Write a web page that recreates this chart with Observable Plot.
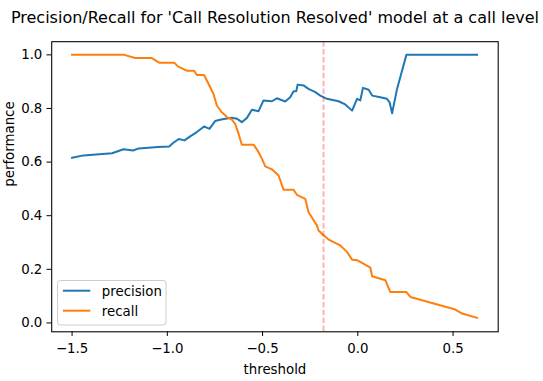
<!DOCTYPE html>
<html>
<head>
<meta charset="utf-8">
<script src="https://cdn.jsdelivr.net/npm/d3@7"></script>
<script src="https://cdn.jsdelivr.net/npm/@observablehq/plot@0.6"></script>
<style>
  html, body { margin: 0; padding: 0; background: #fff; }
  #chart { width: 543px; height: 381px; }
</style>
</head>
<body>
<div id="chart"></div>
<script>
const titleText = "Precision/Recall for 'Call Resolution Resolved' model at a call level";
const xLabel = "threshold";
const yLabel = "performance";
const seriesNames = ["precision", "recall"];
const seriesColors = ["#1f77b4", "#ff7f0e"];
const xTicks = [-1.5, -1.0, -0.5, 0.0, 0.5];
const yTicks = [0.0, 0.2, 0.4, 0.6, 0.8, 1.0];
const chosenThreshold = [-0.18];

const precisionX = [-1.50, -1.44, -1.29, -1.23, -1.18, -1.15, -1.05, -0.99, -0.97, -0.94, -0.91, -0.88, -0.845, -0.807, -0.779, -0.749, -0.723, -0.696, -0.661, -0.635, -0.609, -0.582, -0.556, -0.521, -0.495, -0.451, -0.425, -0.381, -0.355, -0.337, -0.323, -0.316, -0.285, -0.259, -0.223, -0.197, -0.162, -0.101, -0.066, -0.030, -0.004, 0.013, 0.027, 0.057, 0.075, 0.118, 0.153, 0.167, 0.180, 0.206, 0.255, 0.626];
const precisionY = [0.616, 0.625, 0.633, 0.648, 0.643, 0.651, 0.656, 0.658, 0.671, 0.686, 0.681, 0.696, 0.712, 0.733, 0.724, 0.753, 0.758, 0.762, 0.765, 0.762, 0.749, 0.765, 0.795, 0.790, 0.830, 0.827, 0.838, 0.826, 0.842, 0.864, 0.864, 0.889, 0.886, 0.873, 0.861, 0.848, 0.836, 0.827, 0.815, 0.792, 0.836, 0.830, 0.877, 0.870, 0.848, 0.842, 0.836, 0.823, 0.782, 0.873, 1.0, 1.0];

const recallX = [-1.50, -1.226, -1.169, -1.081, -1.043, -0.964, -0.943, -0.898, -0.859, -0.845, -0.807, -0.784, -0.758, -0.740, -0.714, -0.687, -0.661, -0.644, -0.626, -0.609, -0.547, -0.521, -0.503, -0.486, -0.451, -0.416, -0.390, -0.337, -0.320, -0.276, -0.259, -0.232, -0.215, -0.206, -0.180, -0.153, -0.092, -0.057, -0.030, -0.004, 0.066, 0.075, 0.145, 0.171, 0.255, 0.276, 0.512, 0.548, 0.626];
const recallY = [1.0, 1.0, 0.988, 0.988, 0.971, 0.971, 0.956, 0.941, 0.941, 0.925, 0.925, 0.892, 0.855, 0.811, 0.786, 0.768, 0.758, 0.743, 0.706, 0.665, 0.665, 0.637, 0.612, 0.584, 0.573, 0.550, 0.497, 0.497, 0.478, 0.463, 0.414, 0.383, 0.364, 0.345, 0.327, 0.311, 0.289, 0.265, 0.236, 0.234, 0.206, 0.174, 0.159, 0.115, 0.115, 0.097, 0.050, 0.035, 0.019];

const precisionData = precisionX.map((x, i) => ({x, y: precisionY[i]}));
const recallData = recallX.map((x, i) => ({x, y: recallY[i]}));

const FS = 13.33;
const mL = 51.2, mR = 543 - 497.7, mT = 41.2, mB = 381 - 331.3;
const fmt = d => (d < 0 ? "\u2212" : "") + Math.abs(d).toFixed(1);

const plot = Plot.plot({
  width: 543,
  height: 381,
  marginLeft: mL,
  marginRight: mR,
  marginTop: mT,
  marginBottom: mB,
  style: {fontFamily: "'DejaVu Sans', sans-serif", fontSize: FS + "px", color: "#000", background: "#fff", overflow: "visible"},
  x: {domain: [-1.607, 0.737]},
  y: {domain: [-0.0331, 1.0491]},
  marks: [
    Plot.line(precisionData, {x: "x", y: "y", stroke: seriesColors[0], strokeWidth: 2, strokeLinejoin: "round", strokeLinecap: "square"}),
    Plot.line(recallData, {x: "x", y: "y", stroke: seriesColors[1], strokeWidth: 2, strokeLinejoin: "round", strokeLinecap: "square"}),
    Plot.ruleX(chosenThreshold, {stroke: "red", strokeOpacity: 0.3, strokeWidth: 2, strokeDasharray: "5.5,2.4"}),
    Plot.frame({stroke: "#000", strokeWidth: 1.07}),
    Plot.axisX({ticks: xTicks, tickSize: 4.67, tickPadding: 7.2, tickFormat: fmt, label: null, stroke: "#000", fill: "#000"}),
    Plot.axisY({ticks: yTicks, tickSize: 4.67, tickPadding: 4.67, tickFormat: fmt, label: null, stroke: "#000", fill: "#000"}),
    Plot.text([titleText], {frameAnchor: "top", lineAnchor: "bottom", dy: -18.3, fontSize: 16, fill: "#000"}),
    Plot.text([xLabel], {frameAnchor: "bottom", lineAnchor: "bottom", dy: 42.5, fill: "#000"}),
    Plot.text([yLabel], {frameAnchor: "left", lineAnchor: "bottom", rotate: -90, dx: -38.1, fill: "#000"})
  ]
});

document.getElementById("chart").appendChild(plot);

// legend (lower left, inside axes)
const svg = d3.select(plot);
const bx = mL + 6.4, bw = 108.4, bh = 44.5;
const by = (381 - mB) - 6.3 - bh;
const lg = svg.append("g").attr("text-anchor", "start");
lg.append("rect")
  .attr("x", bx).attr("y", by).attr("width", bw).attr("height", bh)
  .attr("rx", 2.7).attr("ry", 2.7)
  .attr("fill", "#fff").attr("fill-opacity", 0.8)
  .attr("stroke", "#cccccc").attr("stroke-width", 1);
seriesNames.forEach((name, i) => {
  const cy = by + 10.2 + i * 20;
  lg.append("line")
    .attr("x1", bx + 5.3).attr("x2", bx + 32.7)
    .attr("y1", cy).attr("y2", cy)
    .attr("stroke", seriesColors[i]).attr("stroke-width", 2);
  lg.append("text")
    .attr("x", bx + 44.2).attr("y", cy + 5.4)
    .attr("text-anchor", "start")
    .attr("font-size", FS).attr("fill", "#000")
    .attr("font-family", "'DejaVu Sans', sans-serif")
    .text(name);
});
</script>
</body>
</html>
